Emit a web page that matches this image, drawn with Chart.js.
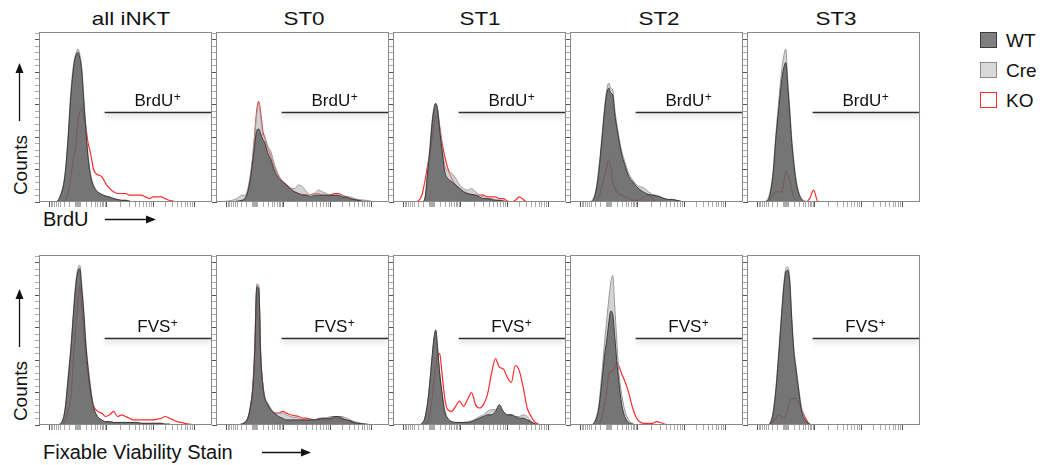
<!DOCTYPE html>
<html>
<head>
<meta charset="utf-8">
<script src="https://cdn.jsdelivr.net/npm/chart.js@4.4.0/dist/chart.umd.min.js"></script>
<style>
  body { margin: 0; width: 1040px; height: 465px; background: #fff; position: relative; overflow: hidden;
         font-family: "Liberation Sans", Arial, sans-serif; color: #111; }
  canvas { position: absolute; }
  .txt { position: absolute; white-space: nowrap; line-height: 1; }
  .title { font-size: 19px; top: 9px; transform: translateX(-50%) scaleX(1.18); }
  .leg { font-size: 19px; left: 1006px; }
  .sw { position: absolute; left: 980px; width: 15px; height: 14px; }
  .counts { font-size: 19px; transform: translate(-50%, -50%) rotate(-90deg); }
  .xlab { font-size: 20px; left: 43px; }
</style>
</head>
<body>

<div class="txt title" style="left:131px">all iNKT</div>
<div class="txt title" style="left:304px">ST0</div>
<div class="txt title" style="left:480px">ST1</div>
<div class="txt title" style="left:659px">ST2</div>
<div class="txt title" style="left:836px">ST3</div>

<div class="sw" style="top:32px;background:#7f7f7f;border:1px solid #3c3c3c"></div>
<div class="sw" style="top:62px;background:#d9d9d9;border:1px solid #8a8a8a"></div>
<div class="sw" style="top:92px;background:#fff;border:1px solid #ff3030"></div>
<div class="txt leg" style="top:31px">WT</div>
<div class="txt leg" style="top:61px">Cre</div>
<div class="txt leg" style="top:91px">KO</div>

<div class="txt counts" style="left:20px;top:165px">Counts</div>
<div class="txt counts" style="left:20px;top:391px">Counts</div>
<div class="txt xlab" style="top:209px">BrdU</div>
<div class="txt xlab" style="top:442px">Fixable Viability Stain</div>

<svg width="1040" height="465" style="position:absolute;left:0;top:0">
  <g stroke="#111" stroke-width="1.3" fill="#111">
    <line x1="19.5" y1="121" x2="19.5" y2="71"/><polygon points="19.5,63 15.5,73 23.5,73" stroke="none"/>
    <line x1="19.5" y1="347" x2="19.5" y2="297"/><polygon points="19.5,289 15.5,299 23.5,299" stroke="none"/>
    <line x1="105" y1="219.5" x2="148" y2="219.5"/><polygon points="156,219.5 146,215.5 146,223.5" stroke="none"/>
    <line x1="262" y1="452.5" x2="303" y2="452.5"/><polygon points="311,452.5 301,448.5 301,456.5" stroke="none"/>
  </g>
</svg>

<script>
// shared histogram bins (fluorescence channel, panel-relative)
const X = [0,15,20,25,28,31,34,36,38,40,42,44,46,48,51,54,58,62,66,70,74,78,82,86,90,94,98,102,106,110,114,118,122,126,130,134,138,142,150,160,172];

// axis tick positions
const XT_MAJOR = [10, 38, 67, 114, 155];
const XT_MINOR = [11.3, 12.7, 14.3, 16.2, 18.4, 21.1, 24.6, 29.6, 35.5, 36.5, 37.3, 39, 40, 41,
                  46.7, 51.8, 55.5, 58.3, 60.6, 62.5, 64.2, 65.7, 81.1, 89.7, 95.6, 100.4, 104, 107.4, 110.2, 112.6,
                  126.3, 133.6, 138.7, 142.6, 145.9, 148.6, 150.9, 153.1];
const YT_MAJOR = [0, 19.1, 38.2, 57.3, 76.4, 95.5];
const YT_MINOR = [3.82, 7.64, 11.46, 15.28, 22.92, 26.74, 30.56, 34.38, 42.02, 45.84, 49.66, 53.48,
                  61.12, 64.94, 68.76, 72.58, 80.22, 84.04, 87.86, 91.68, 99.32];

// BrdU row (% of max counts)
const brduAllWT  = [0,0,3,15,35,62,80,86,88,85,77,60,43,28,15, 9,6,4.5,3.5,3, 2,1.5,1,1,0.5, 0,0,0,0,0, 0,0,0,0,0, 0,0,0,0,0,0];
const brduAllCre = [0,0,3,16,37,65,82,87,90,87,79,62,45,30,16, 10,6,4.5,3.5,3, 2,1.5,1,1,0.5, 0,0,0,0,0, 0,0,0,0,0, 0,0,0,0,0,0];
const brduAllKO  = [0,0,0,1,4,15,27,33,48,53,55,50,45,36,28, 19,16,15,11,8, 6,5,5,5,4, 4,4,4,3,2, 3,3,3,2,1, 0.5,0,0,0,0,0];

const brduST0WT  = [0,0,0.5,1,2,6,15,24,34,42,43,40,37,35,29, 25,18,14,12,10, 7.5,6,5,4,4, 3,4,4,4,4, 4,4,4,3,3, 2,1.5,1,0,0,0];
const brduST0Cre = [0,1,2,4,4,8,18,28,40,52,58,50,40,38,33, 30,22,16,12,10, 8,8,10,9,6, 4,5,7,6,5, 4,4,4,4,3, 3,2,1.5,1,0,0];
const brduST0KO  = [0,0,0,0.5,2,6,16,26,40,54,59,52,42,38,32, 27,20,15,12,10, 8,6,5,4.5,4, 4,5,5,4,4, 4,5,5,4,3, 2,1.5,1,0.5,0,0];

const brduST1WT  = [0,0,0,0,0,2,18,30,44,54,58,54,42,32,18, 14,12,10,8,6, 5,4.5,4,3,2, 2,1.5,1,1,0.5, 0,0,0,0,0, 0,0,0,0,0,0];
const brduST1Cre = [0,0,0,0,0,2,20,32,46,55,58,54,44,34,22, 18,17,14,10,8, 7,8,6,4,3, 2,2,1.5,1,1, 0,0,0,0,0, 0,0,0,0,0,0];
const brduST1KO  = [0,0,0,1,4,12,22,28,36,45,50,50,44,36,27, 20,14,10,8,6, 5,4,4,4,4, 3,3,3,2,2, 0.5,0,1,3,1.5, 0,0,0,0,0,0];

const brduST2WT  = [0,0,0,6,18,36,55,64,67,64,63,52,44,37,28, 22,15,12,9,7, 5.5,4.5,4,3.5,3, 2,1.5,1.5,1,0.5, 0,0,0,0,0, 0,0,0,0,0,0];
const brduST2Cre = [0,0,0.5,7,20,38,57,66,70,67,66,55,46,39,30, 24,17,13,10,9, 8,6,4.5,4,3, 2,1.5,1.5,1,0.5, 0,0,0,0,0, 0,0,0,0,0,0];
const brduST2KO  = [0,0,0,0,3,9,16,21,25,20,12,8,6,5,4, 3,2,1,1,1.5, 3,4,2,0,0, 0,0,0,0,0, 0,0,0,0,0, 0,0,0,0,0,0];

const brduST3WT  = [0,0,1,15,37,55,72,79,82,68,52,35,23,13,5, 1.5,0,0,0,0, 0,0,0,0,0, 0,0,0,0,0, 0,0,0,0,0, 0,0,0,0,0,0];
const brduST3Cre = [0,0,2,17,40,60,78,86,90,72,55,38,25,15,6, 2,0.5,0,0,0, 0,0,0,0,0, 0,0,0,0,0, 0,0,0,0,0, 0,0,0,0,0,0];
const brduST3KO  = [0,0,0,4,6,6,6,11,18,16,13,7,3,1,0, 0,0,2,7,0.5, 0,0,0,0,0, 0,0,0,0,0, 0,0,0,0,0, 0,0,0,0,0,0];

// FVS row
const fvsAllWT  = [0,0,0.5,8,25,44,68,82,90,92,80,66,48,35,20, 10,5,3,2,2, 1.5,1.5,1.5,1.5,1.5, 1.5,1.5,1,1,1, 1,1,1,0.5,0.5, 0,0,0,0,0,0];
const fvsAllCre = [0,0,0.5,9,27,46,70,84,92,94,83,68,50,37,22, 11,5,3,2,2, 1.5,1.5,1.5,1.5,1.5, 1.5,1.5,1,1,1, 1,1,1,0.5,0.5, 0,0,0,0,0,0];
const fvsAllKO  = [0,0,0,2,8,16,42,58,72,82,70,55,40,30,18, 11,8,7,5,6, 8,5,6,5,4, 3,3,3,3,3, 3,3.5,4,5,4, 3,2,1.5,0.5,0,0];

const fvsST0WT  = [0,0,0,0.5,1.5,4,12,22,44,81,80,40,24,16,12, 9,7,5,4,3, 3,3,3,3,3, 3,3,3.5,4,4, 4,5,5,4,3, 2.5,1.5,1,0.5,0,0];
const fvsST0Cre = [0,0,0,0.5,1.5,4,12,22,44,83,82,42,25,17,13, 10,7,7,7,6, 5,4.5,4,3,3, 3,3,4,4,4, 5,5,5,5,4, 3,2,1.5,0.5,0,0];
const fvsST0KO  = [0,0,0,0.5,1.5,4,12,22,45,82,81,40,24,16,12, 9,7,7,8,7, 6,5.5,5,4,4, 3.5,3,3,3,3, 3,4,4,3,3, 2,1,0.5,0,0,0];

const fvsST1WT  = [0,0,0,0,1,4,14,25,38,50,56,44,30,20,8, 4,2,1.5,1.5,1.5, 1.5,2,3,4,5, 6,6,8,12,8, 6,6,5,4,4, 3,2,0.5,0,0,0];
const fvsST1Cre = [0,0,0,0,1,4,14,25,38,50,55,44,31,21,9, 4,2,1.5,1.5,1.5, 2,2.5,3.5,5,6, 8,9,9,10,8, 6,6,5,5,6, 5,2,0.5,0,0,0];
const fvsST1KO  = [0,0,0,0,0,0.5,2,6,14,25,34,41,42,32,16, 9,8,11,14,11, 15,19,12,10,12, 18,30,39,34,33, 28,25,35,32,22, 10,5,1.5,0,0,0];

const fvsST2WT  = [0,0,0,3,10,25,42,50,60,67,65,52,38,26,12, 5,1.5,0.5,0,0, 0,0,0,0,0, 0,0,0,0,0, 0,0,0,0,0, 0,0,0,0,0,0];
const fvsST2Cre = [0,0,0,4,12,30,50,62,74,84,88,70,50,32,18, 9,3,1,0,0, 0,0,0,0,0, 0,0,0,0,0, 0,0,0,0,0, 0,0,0,0,0,0];
const fvsST2KO  = [0,0,0,0,0.5,4,13,20,30,31,32,34,37,35,30, 26,19,10,4,1.5, 1,1,1,2,1.5, 0.5,0,0,0,0, 0,0,0,0,0, 0,0,0,0,0,0];

const fvsST3WT  = [0,0,0,6,20,42,66,81,90,91,84,62,44,34,20, 8,2.5,0.5,0,0, 0,0,0,0,0, 0,0,0,0,0, 0,0,0,0,0, 0,0,0,0,0,0];
const fvsST3Cre = [0,0,0,7,22,44,68,83,92,93,86,64,46,36,22, 10,3,0.5,0,0, 0,0,0,0,0, 0,0,0,0,0, 0,0,0,0,0, 0,0,0,0,0,0];
const fvsST3KO  = [0,0,0,2,4,6,4.5,4,6,9,14,15,16,15,13, 9,4,0.5,0,0, 0,0,0,0,0, 0,0,0,0,0, 0,0,0,0,0, 0,0,0,0,0,0];

// layout
const PANEL_LEFT = [40, 217, 394, 571, 748];
const ROW_TOP = [32, 255];
const ROWS = [
  { gate: 'BrdU', gateY: 52.7, sets: [[brduAllWT, brduAllCre, brduAllKO], [brduST0WT, brduST0Cre, brduST0KO],
      [brduST1WT, brduST1Cre, brduST1KO], [brduST2WT, brduST2Cre, brduST2KO], [brduST3WT, brduST3Cre, brduST3KO]] },
  { gate: 'FVS', gateY: 51, sets: [[fvsAllWT, fvsAllCre, fvsAllKO], [fvsST0WT, fvsST0Cre, fvsST0KO],
      [fvsST1WT, fvsST1Cre, fvsST1KO], [fvsST2WT, fvsST2Cre, fvsST2KO], [fvsST3WT, fvsST3Cre, fvsST3KO]] }
];

const FONT = '"Liberation Sans", Arial, sans-serif';

// gate line with label (BrdU+ / FVS+)
const gatePlugin = {
  id: 'gate',
  afterDatasetsDraw(chart, args, opts) {
    const { ctx, chartArea: a, scales: { x, y } } = chart;
    const yy = Math.round(y.getPixelForValue(opts.y)) + 0.5;
    const x0 = x.getPixelForValue(opts.from);
    ctx.save();
    ctx.shadowColor = 'rgba(0,0,0,0.28)';
    ctx.shadowBlur = 5;
    ctx.shadowOffsetY = 3;
    ctx.strokeStyle = '#2e2e2e';
    ctx.lineWidth = 1.5;
    ctx.beginPath();
    ctx.moveTo(x0, yy);
    ctx.lineTo(a.right, yy);
    ctx.stroke();
    ctx.restore();

    ctx.save();
    ctx.fillStyle = '#111';
    ctx.textAlign = 'left';
    ctx.textBaseline = 'alphabetic';
    ctx.font = '17px ' + FONT;
    const w1 = ctx.measureText(opts.text).width;
    ctx.font = '12px ' + FONT;
    const w2 = ctx.measureText('+').width;
    const left = x.getPixelForValue(opts.labelX) - (w1 + w2) / 2;
    const base = yy - 7;
    ctx.font = '17px ' + FONT;
    ctx.fillText(opts.text, left, base);
    ctx.font = '12px ' + FONT;
    ctx.fillText('+', left + w1 + 0.5, base - 5);
    ctx.restore();
  }
};

// grey box around each plot
const framePlugin = {
  id: 'frame',
  afterDraw(chart) {
    const { ctx, chartArea: a } = chart;
    ctx.save();
    ctx.strokeStyle = '#8a8a8a';
    ctx.lineWidth = 1;
    ctx.strokeRect(Math.round(a.left) - 0.5, Math.round(a.top) + 0.5,
                   Math.round(a.right - a.left) + 1, Math.round(a.bottom - a.top) - 1);
    ctx.restore();
  }
};

function pts(arr) {
  return X.map((x, i) => ({ x: x, y: arr[i] }));
}

function tickList(major, minor) {
  return major.map(v => ({ value: v, major: true })).concat(minor.map(v => ({ value: v, major: false })));
}

function makeChart(left, top, series, gate, gateY) {
  const cv = document.createElement('canvas');
  cv.width = 181;
  cv.height = 180;
  cv.style.left = (left - 8) + 'px';
  cv.style.top = (top - 2) + 'px';
  document.body.appendChild(cv);

  const tickColor = c => (c.tick && c.tick.major) ? '#555' : '#aaa';

  new Chart(cv, {
    type: 'line',
    data: {
      datasets: [
        { label: 'WT', data: pts(series[0]), borderColor: '#3a3a3a', borderWidth: 1,
          backgroundColor: 'rgba(78,78,78,0.7)', fill: 'origin', order: 0 },
        { label: 'Cre', data: pts(series[1]), borderColor: '#999', borderWidth: 1,
          backgroundColor: 'rgba(182,182,182,0.6)', fill: 'origin', order: 1 },
        { label: 'KO', data: pts(series[2]), borderColor: '#ff2a2a', borderWidth: 1.2,
          fill: false, order: 2 }
      ]
    },
    options: {
      responsive: false,
      animation: false,
      devicePixelRatio: 1,
      layout: { padding: { left: 3, top: 2, right: 2, bottom: 3 } },
      elements: { point: { radius: 0 }, line: { cubicInterpolationMode: 'monotone' } },
      scales: {
        x: {
          type: 'linear', min: 0, max: 172,
          afterBuildTicks: s => { s.ticks = tickList(XT_MAJOR, XT_MINOR); },
          ticks: { display: false },
          grid: { drawOnChartArea: false, drawTicks: true, tickLength: 5, tickColor: tickColor },
          border: { display: false }
        },
        y: {
          min: 0, max: 100,
          afterBuildTicks: s => { s.ticks = tickList(YT_MAJOR, YT_MINOR); },
          ticks: { display: false },
          grid: { drawOnChartArea: false, drawTicks: true, tickLength: 5, tickColor: tickColor },
          border: { display: false }
        }
      },
      plugins: {
        legend: { display: false },
        tooltip: { enabled: false },
        gate: { text: gate, y: gateY, from: 65, labelX: 118 }
      }
    },
    plugins: [gatePlugin, framePlugin]
  });
}

ROWS.forEach((row, r) => {
  row.sets.forEach((series, c) => {
    makeChart(PANEL_LEFT[c], ROW_TOP[r], series, row.gate, row.gateY);
  });
});
</script>
</body>
</html>
